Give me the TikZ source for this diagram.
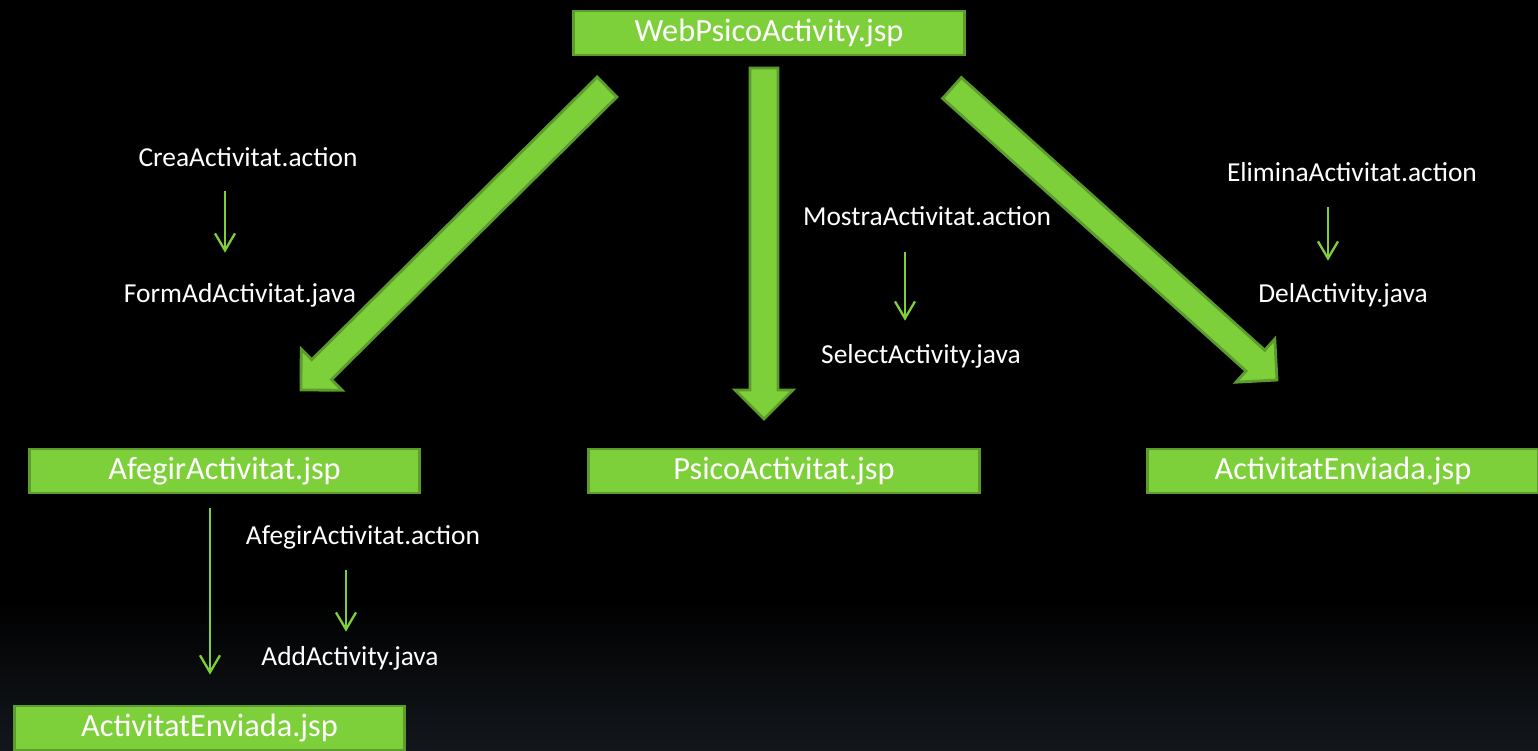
\documentclass[tikz,border=0pt]{standalone}
\usepackage{fontspec}
\setmainfont{Carlito}
\usetikzlibrary{calc,arrows.meta}
\definecolor{box_green}{HTML}{7ED03B}
\definecolor{box_edge}{HTML}{5C9C2C}
\definecolor{bg_low}{HTML}{13171C}

\tikzset{
    jsp/.style={draw=box_edge, line width=0.8pt, fill=box_green, text=white,
        minimum width=3.9cm, minimum height=0.44cm, inner sep=0pt,
        font=\fontsize{9.2}{11}\selectfont},
    lbl/.style={text=white, inner sep=0pt, text height=1.6ex, text depth=0.5ex,
        font=\fontsize{7.8}{9}\selectfont},
    flow/.style={draw=box_green, line width=0.65pt,
        -{Straight Barb[length=0.17cm, width=0.2cm]}},
    fatarrow/.style={draw=box_edge, line width=0.8pt, fill=box_green, line join=miter}
}

% block arrow from #1 to tip #2
\newcommand{\fatarrow}[2]{%
    \coordinate (h) at ($(#2)!0.29cm!(#1)$);
    \draw[fatarrow] ($(#1)!0.14cm!90:(#2)$) -- ($(h)!0.14cm!90:(#2)$)
        -- ($(h)!0.29cm!90:(#2)$) -- (#2) -- ($(h)!0.29cm!-90:(#2)$)
        -- ($(h)!0.14cm!-90:(#2)$) -- ($(#1)!0.14cm!-90:(#2)$) -- cycle;
}

\begin{document}
\begin{tikzpicture}[x=0.01cm, y=-0.01cm]
    \useasboundingbox (0,0) rectangle (1538,751);
    % Background
    \fill[black] (0,0) rectangle (1538,751);
    \shade[top color=black, bottom color=bg_low] (0,600) rectangle (1538,751);

    % Pages
    \node[jsp] (web) at (769,33) {WebPsicoActivity.jsp};
    \node[jsp] (afegir) at (224.5,471) {AfegirActivitat.jsp};
    \node[jsp] (psico) at (784,471) {PsicoActivitat.jsp};
    \node[jsp] (enviadaR) at (1343,471) {ActivitatEnviada.jsp};
    \node[jsp] (enviadaB) at (209.5,728) {ActivitatEnviada.jsp};

    % Actions and classes
    \node[lbl] (crea) at (248,157) {CreaActivitat.action};
    \node[lbl] (form) at (240,293) {FormAdActivitat.java};
    \node[lbl] (mostra) at (927,216) {MostraActivitat.action};
    \node[lbl] (select) at (921,354) {SelectActivity.java};
    \node[lbl] (elimina) at (1352,172) {EliminaActivitat.action};
    \node[lbl] (del) at (1343,293) {DelActivity.java};
    \node[lbl] (afegiract) at (363,535) {AfegirActivitat.action};
    \node[lbl] (add) at (350,656) {AddActivity.java};

    % Big arrows
    \coordinate (l0) at (607,87);
    \coordinate (l1) at (301,390);
    \coordinate (m0) at (764,68);
    \coordinate (m1) at (764,419);
    \coordinate (r0) at (952,88);
    \coordinate (r1) at (1277,380);
    \fatarrow{l0}{l1}
    \fatarrow{m0}{m1}
    \fatarrow{r0}{r1}

    % Small arrows
    \draw[flow, shorten <=0.16cm, shorten >=0.22cm] ([xshift=-0.23cm]crea.south)
        -- ([xshift=-0.23cm]crea.south |- form.north);
    \draw[flow, shorten <=0.18cm, shorten >=0.15cm] ([xshift=-0.22cm]mostra.south)
        -- ([xshift=-0.22cm]mostra.south |- select.north);
    \draw[flow, shorten <=0.17cm, shorten >=0.14cm] ([xshift=-0.24cm]elimina.south)
        -- ([xshift=-0.24cm]elimina.south |- del.north);
    \draw[flow, shorten <=0.17cm, shorten >=0.06cm] ([xshift=-0.17cm]afegiract.south)
        -- ([xshift=-0.17cm]afegiract.south |- add.north);
    \draw[flow, shorten <=0.14cm, shorten >=0.30cm] ([xshift=-0.145cm]afegir.south)
        -- ([xshift=-0.145cm]afegir.south |- enviadaB.north);
\end{tikzpicture}
\end{document}
